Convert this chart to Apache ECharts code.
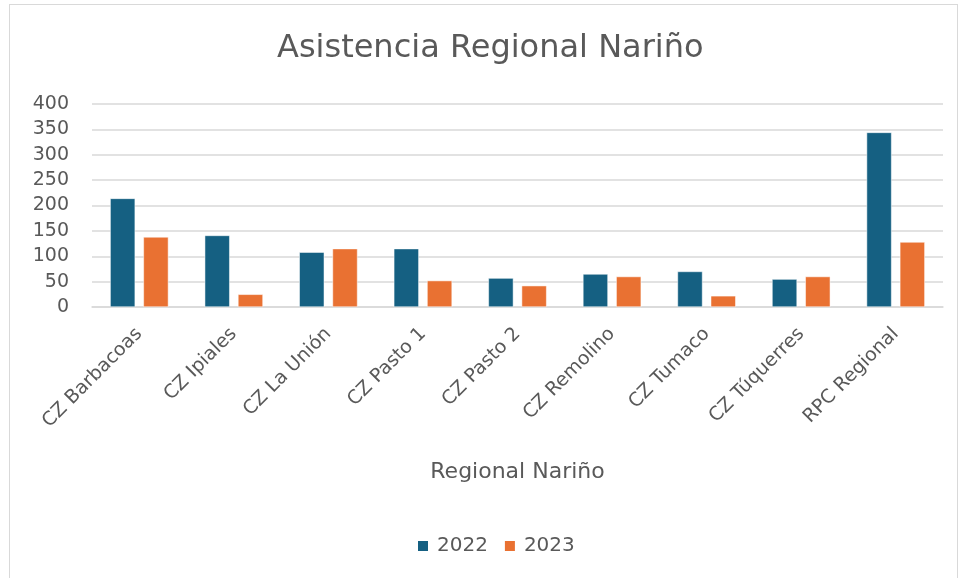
<!DOCTYPE html>
<html>
<head>
<meta charset="utf-8">
<script src="https://cdn.jsdelivr.net/npm/echarts@6/dist/echarts.min.js"></script>
<style>
  html, body { margin: 0; padding: 0; background: #fff; }
  #frame { position: absolute; left: 9px; top: 4px; width: 949px; height: 580px; border: 1px solid #d9d9d9; box-sizing: border-box; }
  #main { position: absolute; left: 0; top: 0; width: 963px; height: 578px; }
</style>
</head>
<body>
<div id="frame"></div>
<div id="main"></div>
<script>
  // datos
  const categorias = ['CZ Barbacoas', 'CZ Ipiales', 'CZ La Unión', 'CZ Pasto 1', 'CZ Pasto 2', 'CZ Remolino', 'CZ Tumaco', 'CZ Túquerres', 'RPC Regional']
  const valores2022 = [214, 141, 108, 115, 57, 65, 70, 55, 344]
  const valores2023 = [138, 25, 115, 52, 42, 60, 22, 60, 128]

  const fuente = '"DejaVu Sans", "Open Sans", sans-serif'
  const gris = '#595959'

  let chart = echarts.init(document.getElementById('main'))
  chart.setOption({
    animation: false,
    title: {
      text: 'Asistencia Regional Nariño',
      left: 272,
      top: 28,
      textStyle: { fontFamily: fuente, fontSize: 32, fontWeight: 'normal', color: gris }
    },
    legend: {
      data: ['2022', '2023'],
      left: 411,
      top: 531,
      icon: 'rect',
      itemWidth: 12,
      itemHeight: 12,
      itemGap: 15,
      textStyle: { fontFamily: fuente, fontSize: 20, color: gris, padding: [0, 0, 0, 3] }
    },
    grid: {
      left: 92,
      right: 20,
      top: 104,
      bottom: 271
    },
    xAxis: {
      type: 'category',
      data: categorias,
      name: 'Regional Nariño',
      nameLocation: 'middle',
      nameGap: 154,
      nameTextStyle: { fontFamily: fuente, fontSize: 22, color: gris, verticalAlign: 'top' },
      axisLine: { lineStyle: { color: '#d9d9d9', width: 1.5 } },
      axisTick: { show: false },
      axisLabel: { rotate: 45, fontFamily: fuente, fontSize: 19, color: gris, margin: 24 }
    },
    yAxis: {
      type: 'value',
      min: 0,
      max: 400,
      interval: 50,
      axisLine: { show: false },
      axisTick: { show: false },
      axisLabel: { fontFamily: fuente, fontSize: 19, color: gris, margin: 23 },
      splitLine: { lineStyle: { color: '#d9d9d9', width: 1.5 } }
    },
    series: [
      {
        name: '2022',
        type: 'bar',
        data: valores2022,
        barWidth: 25,
        barGap: '33%',
        itemStyle: { color: '#156082', borderColor: '#ffffff', borderWidth: 0.5 }
      },
      {
        name: '2023',
        type: 'bar',
        data: valores2023,
        barWidth: 25,
        itemStyle: { color: '#E97132', borderColor: '#ffffff', borderWidth: 0.5 }
      }
    ]
  })
</script>
</body>
</html>
